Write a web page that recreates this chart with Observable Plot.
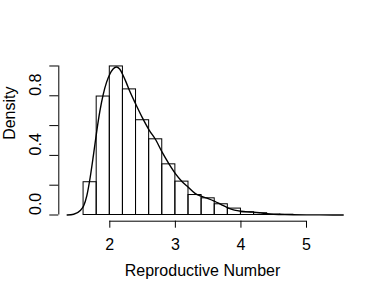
<!DOCTYPE html>
<html><head><meta charset="utf-8">
<script src="https://cdn.jsdelivr.net/npm/d3@7"></script>
<script src="https://cdn.jsdelivr.net/npm/@observablehq/plot@0.6"></script>
<style>body{margin:0;background:#fff}</style>
</head><body><div id="chart"></div>
<script>
const binStarts = [1.6, 1.8, 2.0, 2.2, 2.4, 2.6, 2.8, 3.0, 3.2, 3.4, 3.6, 3.8, 4.0, 4.2, 4.4, 4.6];
const binDensity = [0.22, 0.795, 0.997, 0.843, 0.636, 0.508, 0.34, 0.224, 0.134, 0.112, 0.072, 0.043, 0.018, 0.012, 0.003, 0.002];
const binWidth = 0.2;
const curveX = [1.35, 1.45, 1.55, 1.6, 1.65, 1.7, 1.75, 1.8, 1.85, 1.9, 1.95, 2.0, 2.05, 2.1, 2.15, 2.2, 2.25, 2.3, 2.4, 2.5, 2.6, 2.7, 2.8, 2.9, 3.0, 3.1, 3.2, 3.3, 3.4, 3.5, 3.6, 3.7, 3.8, 3.9, 4.0, 4.1, 4.2, 4.3, 4.4, 4.5, 4.6, 4.8, 5.0, 5.2, 5.4, 5.56];
const curveY = [0, 0.005, 0.03, 0.06, 0.13, 0.25, 0.40, 0.56, 0.70, 0.81, 0.89, 0.945, 0.98, 0.993, 0.98, 0.94, 0.89, 0.835, 0.74, 0.65, 0.57, 0.505, 0.42, 0.345, 0.278, 0.225, 0.185, 0.145, 0.125, 0.11, 0.092, 0.07, 0.048, 0.033, 0.025, 0.021, 0.019, 0.014, 0.008, 0.004, 0.003, 0.002, 0.001, 0.0008, 0.0004, 0];
const xTicks = [2, 3, 4, 5];
const yTicks = [0, 0.2, 0.4, 0.6, 0.8, 1.0];
const yLabelTicks = [0, 0.4, 0.8];
const xTitle = "Reproductive Number";
const yTitle = "Density";
const xDomain = [1.2222, 5.6968];
const yDomain = [-0.0416, 1.0503];

const bins = binStarts.map((x0, i) => ({x1: x0, x2: x0 + binWidth, y: binDensity[i]}));
const curve = curveX.map((x, i) => ({x, y: curveY[i]}));

const chart = Plot.plot({
  width: 374, height: 295,
  marginLeft: 58.3, marginRight: 22.3, marginTop: 58, marginBottom: 74.3,
  x: {domain: xDomain},
  y: {domain: yDomain},
  style: {fontFamily: "'Liberation Sans', Arial, sans-serif", fontSize: "16px", background: "#fff", color: "#000"},
  marks: [
    Plot.rectY(bins, {x1: "x1", x2: "x2", y1: 0, y2: "y", fill: "none", stroke: "#000", strokeWidth: 1}),
    Plot.line(curve, {x: "x", y: "y", curve: "monotone-x", stroke: "#000", strokeWidth: 1.4}),
    Plot.ruleY([yDomain[0]], {x1: xTicks[0], x2: xTicks[xTicks.length - 1], stroke: "#000"}),
    Plot.ruleX([xDomain[0]], {y1: yTicks[0], y2: yTicks[yTicks.length - 1], stroke: "#000"}),
    Plot.axisX({ticks: xTicks, tickSize: 7, tickPadding: 10, tickFormat: d => String(d), label: null, fontSize: 16}),
    Plot.axisY({ticks: yTicks, tickSize: 9, tickFormat: () => "", label: null}),
    Plot.text(yLabelTicks, {y: d => d, frameAnchor: "left", dx: -23, rotate: -90, text: d => d.toFixed(1), fontSize: 16}),
    Plot.text([yTitle], {frameAnchor: "left", dx: -49, rotate: -90, fontSize: 16}),
    Plot.text([xTitle], {frameAnchor: "bottom", dx: -3, dy: 55, fontSize: 16})
  ]
});
document.getElementById("chart").appendChild(chart);
</script>
</body></html>
